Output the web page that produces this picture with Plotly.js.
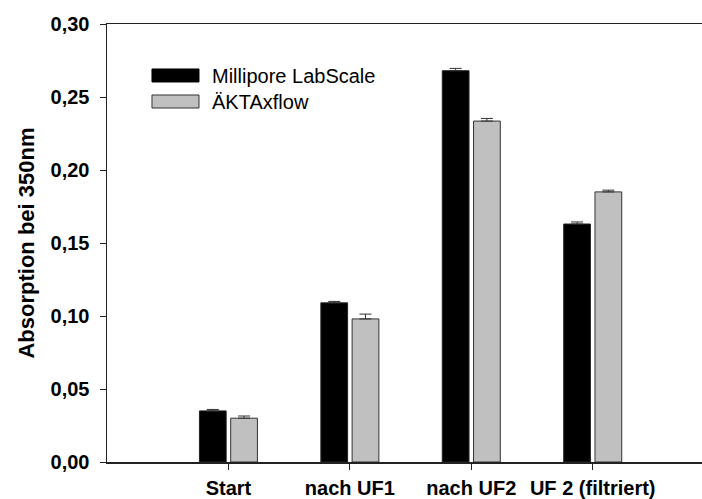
<!DOCTYPE html>
<html>
<head>
<meta charset="utf-8">
<script src="https://cdn.plot.ly/plotly-3.0.1.min.js"></script>
<style>
  html, body { margin: 0; padding: 0; background: #ffffff; }
  #chart { width: 702px; height: 499px; }
</style>
</head>
<body>
<div id="chart"></div>
<script>
// Sample stages along the process
const stages = ['Start', 'nach UF1', 'nach UF2', 'UF 2 (filtriert)'];

// Series names
const seriesNames = ['Millipore LabScale', 'ÄKTAxflow'];

// Absorption at 350 nm, Millipore LabScale
const millipore = [0.035, 0.109, 0.268, 0.163];
const milliporeErr = [0.001, 0.001, 0.0016, 0.0014];

// Absorption at 350 nm, ÄKTAxflow
const akta = [0.030, 0.098, 0.2335, 0.185];
const aktaErr = [0.0015, 0.0033, 0.0018, 0.0012];

// Y axis ticks
const yTicks = [0, 0.05, 0.10, 0.15, 0.20, 0.25, 0.30];

const FONT = 'Liberation Sans, Arial, Helvetica, sans-serif';
const zeros = stages.map(() => 0);

function errorUp(arr) {
  return {
    type: 'data', array: arr, arrayminus: zeros, symmetric: false,
    color: '#333333', thickness: 1, width: 6, visible: true
  };
}

const traces = [
  {
    type: 'bar', name: seriesNames[0], x: stages, y: millipore,
    marker: { color: '#000000', line: { color: '#222222', width: 1 } },
    error_y: errorUp(milliporeErr), showlegend: false, hoverinfo: 'x+y'
  },
  {
    type: 'bar', name: seriesNames[1], x: stages, y: akta,
    marker: { color: '#c0c0c0', line: { color: '#333333', width: 1 } },
    error_y: errorUp(aktaErr), showlegend: false, hoverinfo: 'x+y'
  }
];

// Legend drawn as swatches + labels inside the plot area
const legendRows = [
  { y0: 0.8676, y1: 0.8973, fill: '#000000', line: '#000000', ty: 0.8824 },
  { y0: 0.8082, y1: 0.8379, fill: '#c0c0c0', line: '#333333', ty: 0.8230 }
];

const shapes = legendRows.map(r => ({
  type: 'rect', xref: 'paper', yref: 'paper',
  x0: 0.0756, x1: 0.1546, y0: r.y0, y1: r.y1,
  fillcolor: r.fill, line: { color: r.line, width: 1 }
}));

const annotations = legendRows.map((r, i) => ({
  xref: 'paper', yref: 'paper', x: 0.1731, y: r.ty,
  xanchor: 'left', yanchor: 'middle', showarrow: false,
  text: seriesNames[i],
  font: { family: FONT, size: 20, color: '#000000' }
}));

const layout = {
  width: 702, height: 499,
  margin: { l: 107, r: 0, t: 24, b: 37, pad: 0 },
  paper_bgcolor: '#ffffff', plot_bgcolor: '#ffffff',
  separators: ', ',
  barmode: 'group', bargap: 0.485, bargroupgap: 0.145,
  showlegend: false,
  font: { family: FONT, color: '#000000' },
  xaxis: {
    type: 'category', categoryorder: 'array', categoryarray: stages,
    range: [-1.0, 3.9], fixedrange: true,
    showline: true, mirror: true, linecolor: '#222222', linewidth: 1.5,
    ticks: 'outside', ticklen: 6, tickwidth: 1, tickcolor: '#222222',
    showgrid: false, zeroline: false,
    ticklabelstandoff: 1,
    tickfont: { family: FONT, size: 20, weight: 'bold', color: '#000000' }
  },
  yaxis: {
    range: [0, 0.30], fixedrange: true,
    tickvals: yTicks, tickformat: '.2f',
    showline: true, mirror: false, linecolor: '#222222', linewidth: 1.5,
    ticks: 'outside', ticklen: 6, tickwidth: 1, tickcolor: '#222222',
    showgrid: false, zeroline: false,
    ticklabelstandoff: 6,
    tickfont: { family: FONT, size: 20, weight: 'bold', color: '#000000' },
    title: {
      text: 'Absorption bei 350nm', standoff: 10,
      font: { family: FONT, size: 22, weight: 'bold', color: '#000000' }
    }
  },
  shapes: shapes,
  annotations: annotations
};

Plotly.newPlot('chart', traces, layout, { displayModeBar: false, staticPlot: true });
</script>
</body>
</html>
